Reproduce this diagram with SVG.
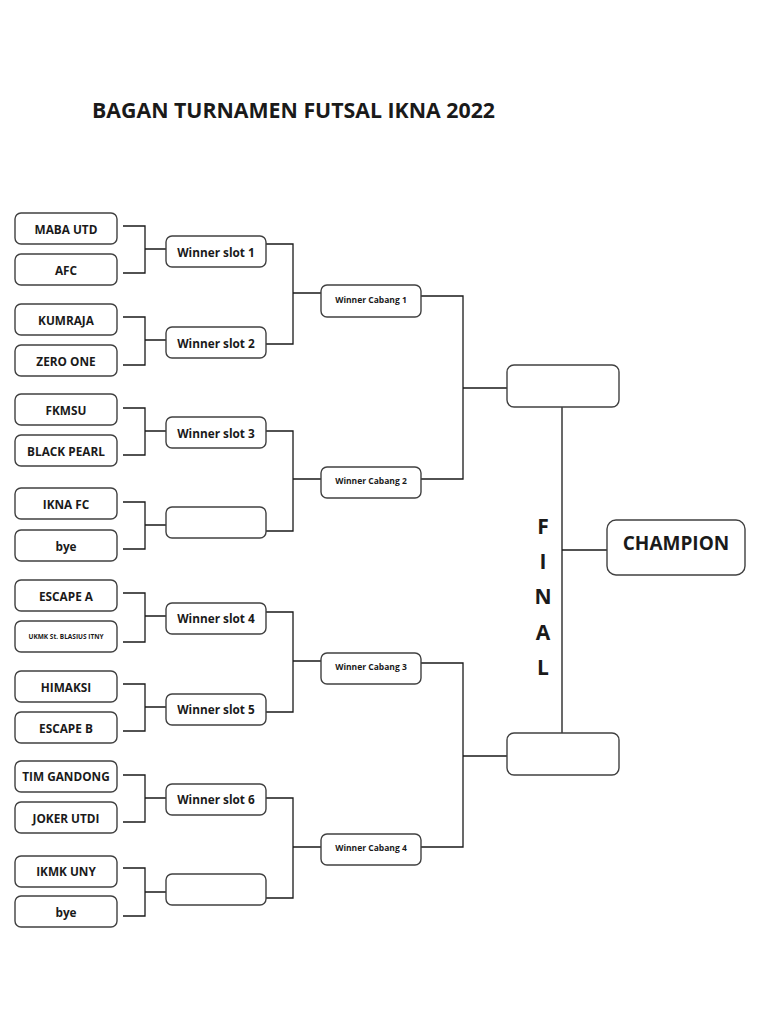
<svg xmlns="http://www.w3.org/2000/svg" width="768" height="1024" viewBox="0 0 768 1024">
<style>
text{font-family:"Open Sans","Liberation Sans",sans-serif;font-weight:bold;fill:#1a1a1a;text-anchor:middle;dominant-baseline:central}
.box{fill:#fff;stroke:#404040;stroke-width:1.4}
.team{font-size:11.8px}
.slot{font-size:11.8px}
.cab{font-size:8.5px}
.ln{fill:none;stroke:#1a1a1a;stroke-width:1.3}
.fin{font-size:21px;dominant-baseline:auto}
</style>
<rect width="768" height="1024" fill="#fff"/>
<text id="title" x="293.5" y="109" style="font-size:22px" textLength="403" lengthAdjust="spacingAndGlyphs">BAGAN TURNAMEN FUTSAL IKNA 2022</text>

<g id="connectors" class="ln">
<path d="M123 226H145V273H123M145 249H166"/>
<path d="M123 317H145V365H123M145 340H166"/>
<path d="M123 408H145V455H123M145 431H166"/>
<path d="M123 502H145V549H123M145 525H166"/>
<path d="M123 593H145V642H123M145 616H166"/>
<path d="M123 684H145V731H123M145 707H166"/>
<path d="M123 775H145V822H123M145 798H166"/>
<path d="M123 868H145V916H123M145 892H166"/>
<path d="M266 244H293V344H266M293 293H321"/>
<path d="M266 431H293V531H266M293 479H321"/>
<path d="M266 612H293V712H266M293 661H321"/>
<path d="M266 798H293V898H266M293 847H321"/>
<path d="M421 296H463V479H421M463 388H507"/>
<path d="M421 663H463V847H421M463 756H507"/>
<path d="M562 407V733M562 550H607"/>
</g>

<g id="t1"><rect class="box" x="15" y="213" width="102" height="31" rx="6"/><text class="team" x="66" y="228.5">MABA UTD</text></g>
<g id="t2"><rect class="box" x="15" y="254" width="102" height="31" rx="6"/><text class="team" x="66" y="269.5">AFC</text></g>
<g id="t3"><rect class="box" x="15" y="304" width="102" height="31" rx="6"/><text class="team" x="66" y="319.5">KUMRAJA</text></g>
<g id="t4"><rect class="box" x="15" y="345" width="102" height="31" rx="6"/><text class="team" x="66" y="360.5">ZERO ONE</text></g>
<g id="t5"><rect class="box" x="15" y="394" width="102" height="31" rx="6"/><text class="team" x="66" y="409.5">FKMSU</text></g>
<g id="t6"><rect class="box" x="15" y="435" width="102" height="31" rx="6"/><text class="team" x="66" y="450.5">BLACK PEARL</text></g>
<g id="t7"><rect class="box" x="15" y="488" width="102" height="31" rx="6"/><text class="team" x="66" y="503.5">IKNA FC</text></g>
<g id="t8"><rect class="box" x="15" y="530" width="102" height="31" rx="6"/><text class="team" x="66" y="545.5">bye</text></g>
<g id="t9"><rect class="box" x="15" y="580" width="102" height="31" rx="6"/><text class="team" x="66" y="595.5">ESCAPE A</text></g>
<g id="t10"><rect class="box" x="15" y="621" width="102" height="31" rx="6"/><text x="66" y="636.5" style="font-size:6.5px">UKMK St. BLASIUS ITNY</text></g>
<g id="t11"><rect class="box" x="15" y="671" width="102" height="31" rx="6"/><text class="team" x="66" y="686.5">HIMAKSI</text></g>
<g id="t12"><rect class="box" x="15" y="712" width="102" height="31" rx="6"/><text class="team" x="66" y="727.5">ESCAPE B</text></g>
<g id="t13"><rect class="box" x="15" y="761" width="102" height="31" rx="6"/><text class="team" x="66" y="776">TIM GANDONG</text></g>
<g id="t14"><rect class="box" x="15" y="802" width="102" height="31" rx="6"/><text class="team" x="66" y="817.5">JOKER UTDI</text></g>
<g id="t15"><rect class="box" x="15" y="856" width="102" height="31" rx="6"/><text class="team" x="66" y="871">IKMK UNY</text></g>
<g id="t16"><rect class="box" x="15" y="896" width="102" height="31" rx="6"/><text class="team" x="66" y="911.5">bye</text></g>

<g id="s1"><rect class="box" x="166" y="236" width="100" height="31" rx="6"/><text class="slot" x="216" y="251.5">Winner slot 1</text></g>
<g id="s2"><rect class="box" x="166" y="327" width="100" height="31" rx="6"/><text class="slot" x="216" y="342.5">Winner slot 2</text></g>
<g id="s3"><rect class="box" x="166" y="417" width="100" height="31" rx="6"/><text class="slot" x="216" y="432.5">Winner slot 3</text></g>
<g id="s3b"><rect class="box" x="166" y="507" width="100" height="31" rx="6"/></g>
<g id="s4"><rect class="box" x="166" y="603" width="100" height="31" rx="6"/><text class="slot" x="216" y="618">Winner slot 4</text></g>
<g id="s5"><rect class="box" x="166" y="694" width="100" height="31" rx="6"/><text class="slot" x="216" y="709">Winner slot 5</text></g>
<g id="s6"><rect class="box" x="166" y="784" width="100" height="31" rx="6"/><text class="slot" x="216" y="799">Winner slot 6</text></g>
<g id="s6b"><rect class="box" x="166" y="874" width="100" height="31" rx="6"/></g>

<g id="c1"><rect class="box" x="321" y="285" width="100" height="32" rx="6"/><text class="cab" x="371" y="299">Winner Cabang 1</text></g>
<g id="c2"><rect class="box" x="321" y="467" width="100" height="31" rx="6"/><text class="cab" x="371" y="480">Winner Cabang 2</text></g>
<g id="c3"><rect class="box" x="321" y="653" width="100" height="31" rx="6"/><text class="cab" x="371" y="666">Winner Cabang 3</text></g>
<g id="c4"><rect class="box" x="321" y="834" width="100" height="31" rx="6"/><text class="cab" x="371" y="847">Winner Cabang 4</text></g>

<g id="f1"><rect class="box" x="507" y="365" width="112" height="42" rx="7"/></g>
<g id="f2"><rect class="box" x="507" y="733" width="112" height="42" rx="7"/></g>

<g id="champion"><rect class="box" x="607" y="520" width="138" height="55" rx="9"/><text x="676" y="543" style="font-size:19px">CHAMPION</text></g>

<g id="final">
<text class="fin" x="543" y="534">F</text>
<text class="fin" x="543" y="569">I</text>
<text class="fin" x="543" y="604">N</text>
<text class="fin" x="543" y="640">A</text>
<text class="fin" x="543" y="675">L</text>
</g>
</svg>
